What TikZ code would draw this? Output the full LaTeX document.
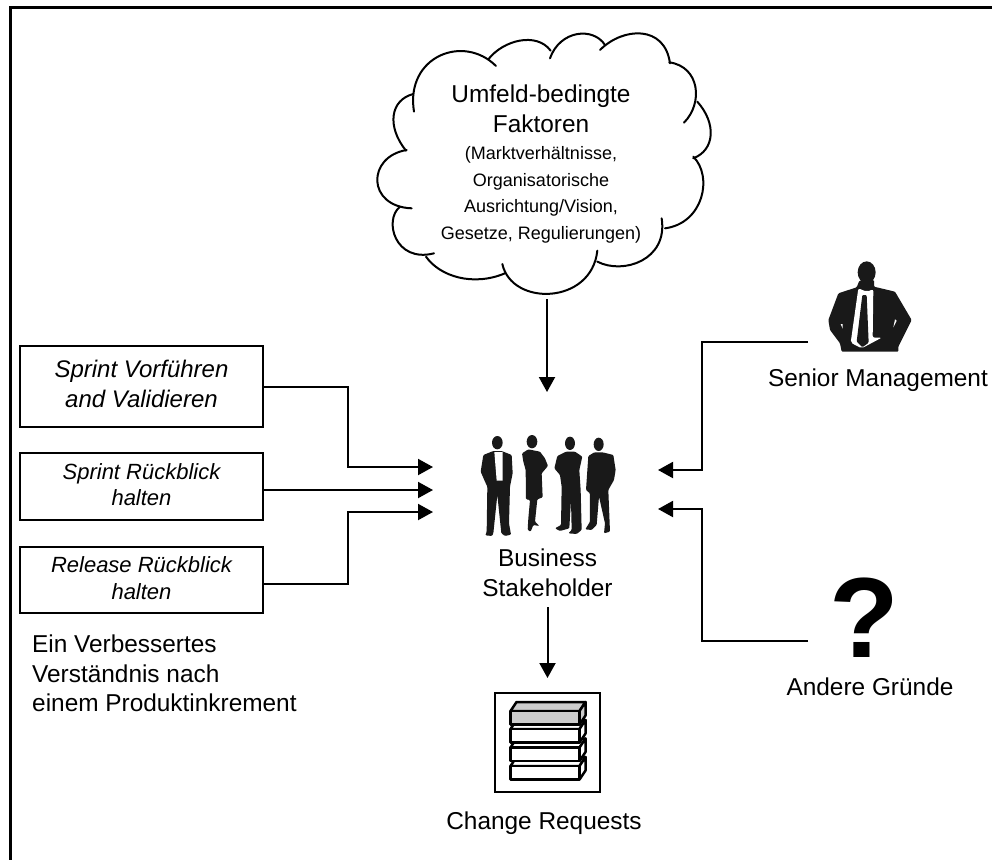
\documentclass[tikz,border=0pt]{standalone}
\usepackage{fontspec}
\setmainfont{Liberation Sans}
\usetikzlibrary{arrows.meta}
\newcommand{\boxstrut}[1]{\rule[-#1]{0pt}{1pt}}
\tikzset{
    sprintbox/.style={draw,line width=2pt,minimum width=243pt,inner sep=0pt,outer sep=0pt,align=center,font=\itshape\fontsize{#1}{26.5}\selectfont},
    label24/.style={inner sep=0pt,align=center,font=\fontsize{24.4}{30}\selectfont},
    pfeil/.style={line width=2pt,-{Triangle[length=15pt,width=16pt]}},
    lobe/.style={line width=2pt,line cap=round},
    silhouette/.style={fill=black!90,rounded corners=1pt},
    zoomteam/.style={shift={(460pt,-390pt)},x=.3333pt,y=-.3333pt},
    zoomcloud/.style={shift={(340pt,0pt)},x=.3333pt,y=-.3333pt},
    zoomboss/.style={shift={(800pt,-250pt)},x=.3333pt,y=-.3333pt}
}
\begin{document}
\begin{tikzpicture}[x=1pt,y=-1pt]
    \useasboundingbox (0,0) rectangle (992,860);
    % frame, top and left only
    \draw[line width=3pt] (992,7) -- (10,7) -- (10,860);

    % cloud
    \begin{scope}[zoomcloud]
        \draw[lobe] (222,335) .. controls (195,170) and (370,100) .. (468,198);
        \draw[lobe] (445,178) .. controls (490,120) and (590,95) .. (632,152);
        \draw[lobe] (630,175) .. controls (660,90) and (760,80) .. (795,135);
        \draw[lobe] (780,150) .. controls (850,80) and (975,75) .. (990,190);
        \draw[lobe] (988,187) .. controls (1080,200) and (1090,310) .. (1032,368);
        \draw[lobe] (1072,305) .. controls (1130,370) and (1125,450) .. (1060,475);
        \draw[lobe] (1060,470) .. controls (1120,530) and (1090,670) .. (975,685);
        \draw[lobe] (965,655) .. controls (985,780) and (850,825) .. (772,785);
        \draw[lobe] (772,752) .. controls (755,915) and (515,920) .. (487,792);
        \draw[lobe] (495,820) .. controls (400,860) and (300,830) .. (258,770);
        \draw[lobe] (180,620) .. controls (130,660) and (165,790) .. (282,760);
        \draw[lobe] (215,625) .. controls (80,620) and (80,470) .. (200,450);
        \draw[lobe] (198,452) .. controls (140,380) and (150,300) .. (220,282);
    \end{scope}
    \node[label24] (umfeld) at (541,108.5) {Umfeld-bedingte\\Faktoren};
    \node[inner sep=0pt,align=center,font=\fontsize{18}{26.5}\selectfont] (umfelddetail) at (541,195) {(Marktverhältnisse,\\Organisatorische\\Ausrichtung/Vision,\\Gesetze, Regulierungen)};

    % left boxes
    \node[sprintbox=24,minimum height=81pt] (vorfuehren) at (141.5,386.5) {Sprint Vorführen\\[3.5pt]and Validieren\boxstrut{6pt}};
    \node[sprintbox=22,minimum height=67pt] (rueckblick) at (141.5,486.5) {Sprint Rückblick\\halten\boxstrut{4pt}};
    \node[sprintbox=22,minimum height=66pt] (release) at (141.5,580) {Release Rückblick\\halten\boxstrut{4pt}};
    \node[inner sep=0pt,align=left,anchor=north west,font=\fontsize{24.4}{29.5}\selectfont] (verstaendnis) at (32,635) {Ein Verbessertes\\Verständnis nach\\einem Produktinkrement};

    % team
    \begin{scope}[zoomteam]
        \fill[silhouette] (112,158) ellipse (16 and 20);
        \fill[silhouette] (100,183) -- (70,195) -- (62,245) -- (75,275) -- (82,290) -- (80,425) -- (76,436) -- (96,438) -- (100,430) -- (112,315) -- (124,430) -- (135,438) -- (153,434) -- (147,400) -- (150,290) -- (158,250) -- (155,195) -- (125,183) -- cycle;
        \fill[white] (103,186) -- (110,272) -- (128,272) -- (128,186) -- cycle;
        \fill[silhouette] (216,155) ellipse (16 and 20);
        \fill[silhouette] (205,178) -- (186,190) -- (190,215) -- (197,240) -- (198,328) -- (210,330) -- (205,385) -- (203,420) -- (212,425) -- (220,405) -- (238,408) -- (225,395) -- (232,328) -- (248,322) -- (245,250) -- (264,228) -- (255,205) -- (240,185) -- cycle;
        \fill[silhouette] (330,160) ellipse (15 and 20);
        \fill[silhouette] (318,185) -- (292,198) -- (283,235) -- (300,255) -- (305,290) -- (303,405) -- (285,415) -- (300,423) -- (328,415) -- (333,330) -- (335,420) -- (325,430) -- (350,432) -- (365,420) -- (362,300) -- (358,240) -- (367,200) -- (345,185) -- cycle;
        \fill[silhouette] (416,163) ellipse (15 and 20);
        \fill[silhouette] (403,187) -- (385,198) -- (378,300) -- (390,310) -- (390,395) -- (376,418) -- (395,420) -- (410,405) -- (417,320) -- (435,400) -- (432,430) -- (450,425) -- (445,300) -- (462,270) -- (467,240) -- (460,195) -- (428,187) -- cycle;
    \end{scope}
    \node[label24,inner sep=10pt] (stakeholder) at (547.5,573) {Business\\Stakeholder};

    % change requests
    \node[draw,line width=2pt,minimum width=105pt,minimum height=99pt,inner sep=0pt,outer sep=0pt] (requests) at (547.5,742.5) {};
    \foreach \y/\c in {766/white,747.5/white,729/white,711/black!20}{
        \filldraw[line width=2.5pt,line join=round,fill=\c] (510.5,\y) --++ (6,-9) --++ (69,0) --++ (-6,9) -- cycle;
        \filldraw[line width=2.5pt,line join=round,fill=\c] (579.5,\y) --++ (6,-9) --++ (0,13.5) --++ (-6,9) -- cycle;
        \filldraw[line width=2.5pt,line join=round,fill=\c] (510.5,\y) rectangle (579.5,\y+13.5);
    };
    \node[label24] (changetext) at (544,823) {Change Requests};

    % senior management
    \begin{scope}[zoomboss]
        \fill[silhouette] (200,67) ellipse (27 and 33);
        \fill[silhouette] (178,92) -- (170,112) -- (130,125) -- (115,130) -- (85,210) -- (90,240) -- (120,280) -- (125,305) -- (295,305) -- (295,290) -- (335,210) -- (285,125) -- (222,110) -- (222,90) -- cycle;
        \fill[white,rounded corners=2pt] (175,115) -- (152,278) -- (185,295) -- (245,263) -- (218,263) -- (220,118) -- (200,125) -- cycle;
        \fill[silhouette] (187,135) -- (200,135) -- (206,278) -- (187,292) -- (170,275) -- cycle;
        \fill[white] (122,222) -- (128,222) -- (128,236) -- cycle;
        \fill[white] (285,208) -- (290,212) -- (280,232) -- cycle;
    \end{scope}
    \node[label24] (senior) at (878,380) {Senior Management};

    % question mark
    \node[inner sep=0pt,font=\bfseries\fontsize{114}{114}\selectfont] (frage) at (864,618) {?};
    \node[label24] (andere) at (870,687) {Andere Gründe};

    % free ends
    \coordinate (cloudfoot) at (547,299);
    \coordinate (tipcloud) at (547,392);
    \coordinate (tipa) at (433,467);
    \coordinate (tipb) at (433,490);
    \coordinate (tipc) at (433,512);
    \coordinate (tipd) at (658,470);
    \coordinate (tipe) at (658,509);
    \coordinate (seniorout) at (808,342);
    \coordinate (frageout) at (808,641);

    \draw[pfeil] (cloudfoot) -- (tipcloud);
    \draw[pfeil] (vorfuehren.east) -- ++(85,0) |- (tipa);
    \draw[pfeil] (rueckblick.east |- tipb) -- (tipb);
    \draw[pfeil] (release.east |- 0,584) -- ++(85,0) |- (tipc);
    \draw[pfeil] (seniorout) -- ++(-106,0) |- (tipd);
    \draw[pfeil] (frageout) -- ++(-106,0) |- (tipe);
    \draw[pfeil,shorten >=15pt] (stakeholder.south) -- (requests.north);
\end{tikzpicture}
\end{document}
